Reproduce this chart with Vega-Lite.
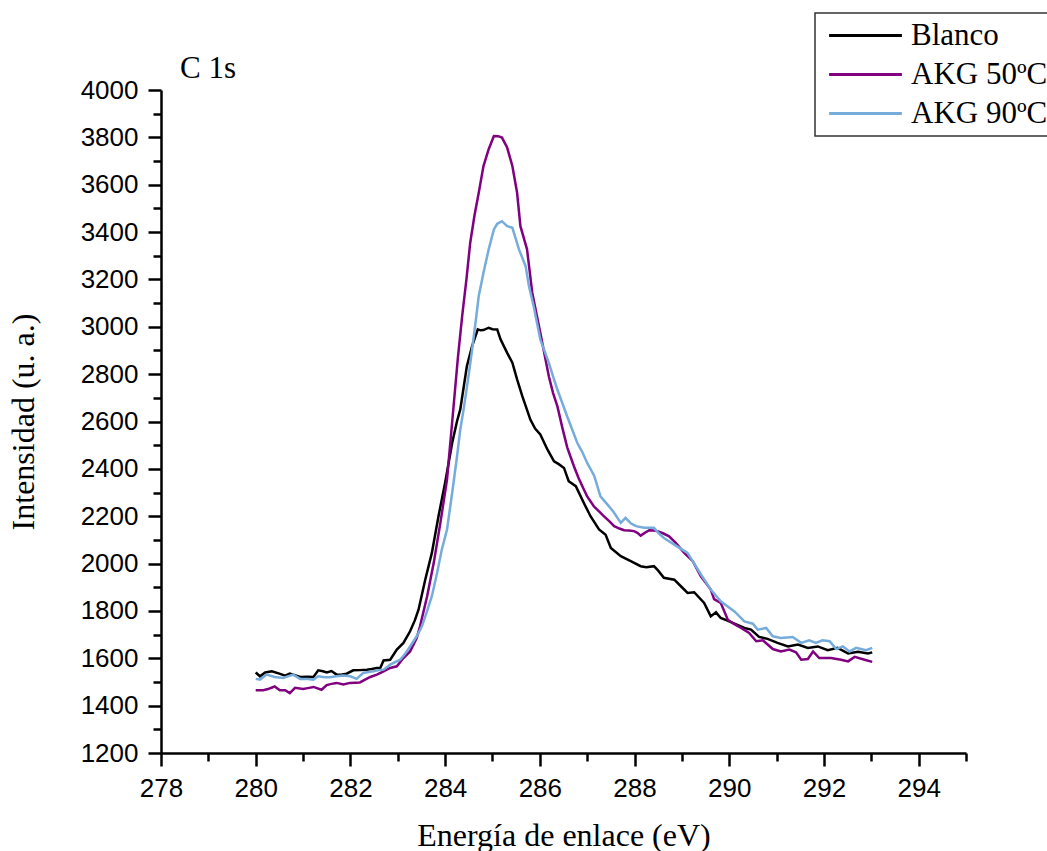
{
  "$schema": "https://vega.github.io/schema/vega-lite/v6.json",
  "width": 805,
  "height": 663,
  "autosize": {"type": "none"},
  "padding": {"left": 161, "top": 90, "right": 81, "bottom": 98},
  "background": "white",
  "config": {"view": {"stroke": null}, "legend": {"strokeWidth": 1.5}},
  "title": {"text": "C 1s", "anchor": "start", "frame": "group", "font": "Liberation Serif", "fontSize": 31, "fontWeight": "normal", "color": "black", "dx": 19, "offset": -97, "baseline": "alphabetic"},
  "data": {"values": [
{"s":"Blanco","e":280.0,"i":1540},{"s":"Blanco","e":280.09,"i":1524},{"s":"Blanco","e":280.2,"i":1540},{"s":"Blanco","e":280.34,"i":1545},{"s":"Blanco","e":280.5,"i":1535},{"s":"Blanco","e":280.62,"i":1527},{"s":"Blanco","e":280.72,"i":1535},{"s":"Blanco","e":280.84,"i":1528},{"s":"Blanco","e":280.94,"i":1521},{"s":"Blanco","e":281.1,"i":1522},{"s":"Blanco","e":281.22,"i":1521},{"s":"Blanco","e":281.32,"i":1549},{"s":"Blanco","e":281.42,"i":1545},{"s":"Blanco","e":281.5,"i":1540},{"s":"Blanco","e":281.6,"i":1546},{"s":"Blanco","e":281.71,"i":1531},{"s":"Blanco","e":281.82,"i":1532},{"s":"Blanco","e":281.92,"i":1535},{"s":"Blanco","e":282.06,"i":1549},{"s":"Blanco","e":282.2,"i":1550},{"s":"Blanco","e":282.35,"i":1552},{"s":"Blanco","e":282.45,"i":1555},{"s":"Blanco","e":282.56,"i":1559},{"s":"Blanco","e":282.63,"i":1559},{"s":"Blanco","e":282.7,"i":1591},{"s":"Blanco","e":282.84,"i":1594},{"s":"Blanco","e":282.98,"i":1637},{"s":"Blanco","e":283.12,"i":1665},{"s":"Blanco","e":283.26,"i":1714},{"s":"Blanco","e":283.36,"i":1760},{"s":"Blanco","e":283.44,"i":1806},{"s":"Blanco","e":283.58,"i":1932},{"s":"Blanco","e":283.72,"i":2045},{"s":"Blanco","e":283.86,"i":2200},{"s":"Blanco","e":284.0,"i":2341},{"s":"Blanco","e":284.15,"i":2510},{"s":"Blanco","e":284.25,"i":2600},{"s":"Blanco","e":284.32,"i":2651},{"s":"Blanco","e":284.46,"i":2834},{"s":"Blanco","e":284.57,"i":2918},{"s":"Blanco","e":284.69,"i":2989},{"s":"Blanco","e":284.75,"i":2985},{"s":"Blanco","e":284.81,"i":2986},{"s":"Blanco","e":284.92,"i":2996},{"s":"Blanco","e":285.0,"i":2990},{"s":"Blanco","e":285.1,"i":2989},{"s":"Blanco","e":285.17,"i":2947},{"s":"Blanco","e":285.31,"i":2890},{"s":"Blanco","e":285.42,"i":2848},{"s":"Blanco","e":285.52,"i":2778},{"s":"Blanco","e":285.63,"i":2707},{"s":"Blanco","e":285.8,"i":2608},{"s":"Blanco","e":285.9,"i":2570},{"s":"Blanco","e":286.01,"i":2545},{"s":"Blanco","e":286.16,"i":2482},{"s":"Blanco","e":286.3,"i":2432},{"s":"Blanco","e":286.4,"i":2420},{"s":"Blanco","e":286.51,"i":2404},{"s":"Blanco","e":286.61,"i":2348},{"s":"Blanco","e":286.76,"i":2327},{"s":"Blanco","e":286.93,"i":2256},{"s":"Blanco","e":287.07,"i":2200},{"s":"Blanco","e":287.25,"i":2144},{"s":"Blanco","e":287.39,"i":2122},{"s":"Blanco","e":287.5,"i":2066},{"s":"Blanco","e":287.71,"i":2031},{"s":"Blanco","e":287.92,"i":2010},{"s":"Blanco","e":288.13,"i":1989},{"s":"Blanco","e":288.25,"i":1985},{"s":"Blanco","e":288.41,"i":1989},{"s":"Blanco","e":288.5,"i":1970},{"s":"Blanco","e":288.62,"i":1940},{"s":"Blanco","e":288.84,"i":1932},{"s":"Blanco","e":289.0,"i":1900},{"s":"Blanco","e":289.12,"i":1876},{"s":"Blanco","e":289.26,"i":1879},{"s":"Blanco","e":289.47,"i":1834},{"s":"Blanco","e":289.61,"i":1777},{"s":"Blanco","e":289.72,"i":1794},{"s":"Blanco","e":289.82,"i":1770},{"s":"Blanco","e":289.95,"i":1760},{"s":"Blanco","e":290.11,"i":1746},{"s":"Blanco","e":290.32,"i":1728},{"s":"Blanco","e":290.46,"i":1721},{"s":"Blanco","e":290.63,"i":1690},{"s":"Blanco","e":290.81,"i":1682},{"s":"Blanco","e":291.02,"i":1665},{"s":"Blanco","e":291.24,"i":1650},{"s":"Blanco","e":291.45,"i":1658},{"s":"Blanco","e":291.66,"i":1644},{"s":"Blanco","e":291.87,"i":1650},{"s":"Blanco","e":292.08,"i":1634},{"s":"Blanco","e":292.29,"i":1644},{"s":"Blanco","e":292.51,"i":1620},{"s":"Blanco","e":292.72,"i":1628},{"s":"Blanco","e":292.93,"i":1620},{"s":"Blanco","e":293.02,"i":1625},
{"s":"AKG 50ºC","e":280.0,"i":1465},{"s":"AKG 50ºC","e":280.16,"i":1465},{"s":"AKG 50ºC","e":280.26,"i":1470},{"s":"AKG 50ºC","e":280.4,"i":1481},{"s":"AKG 50ºC","e":280.51,"i":1465},{"s":"AKG 50ºC","e":280.62,"i":1465},{"s":"AKG 50ºC","e":280.72,"i":1453},{"s":"AKG 50ºC","e":280.83,"i":1475},{"s":"AKG 50ºC","e":281.0,"i":1470},{"s":"AKG 50ºC","e":281.1,"i":1474},{"s":"AKG 50ºC","e":281.22,"i":1479},{"s":"AKG 50ºC","e":281.39,"i":1467},{"s":"AKG 50ºC","e":281.5,"i":1487},{"s":"AKG 50ºC","e":281.6,"i":1492},{"s":"AKG 50ºC","e":281.71,"i":1496},{"s":"AKG 50ºC","e":281.85,"i":1489},{"s":"AKG 50ºC","e":281.99,"i":1496},{"s":"AKG 50ºC","e":282.1,"i":1497},{"s":"AKG 50ºC","e":282.2,"i":1498},{"s":"AKG 50ºC","e":282.31,"i":1510},{"s":"AKG 50ºC","e":282.42,"i":1521},{"s":"AKG 50ºC","e":282.56,"i":1531},{"s":"AKG 50ºC","e":282.7,"i":1545},{"s":"AKG 50ºC","e":282.84,"i":1559},{"s":"AKG 50ºC","e":282.98,"i":1566},{"s":"AKG 50ºC","e":283.12,"i":1601},{"s":"AKG 50ºC","e":283.26,"i":1629},{"s":"AKG 50ºC","e":283.4,"i":1685},{"s":"AKG 50ºC","e":283.47,"i":1735},{"s":"AKG 50ºC","e":283.62,"i":1862},{"s":"AKG 50ºC","e":283.76,"i":2003},{"s":"AKG 50ºC","e":283.9,"i":2172},{"s":"AKG 50ºC","e":284.04,"i":2355},{"s":"AKG 50ºC","e":284.15,"i":2600},{"s":"AKG 50ºC","e":284.27,"i":2870},{"s":"AKG 50ºC","e":284.36,"i":3045},{"s":"AKG 50ºC","e":284.45,"i":3200},{"s":"AKG 50ºC","e":284.53,"i":3355},{"s":"AKG 50ºC","e":284.62,"i":3470},{"s":"AKG 50ºC","e":284.71,"i":3566},{"s":"AKG 50ºC","e":284.81,"i":3679},{"s":"AKG 50ºC","e":284.92,"i":3750},{"s":"AKG 50ºC","e":285.03,"i":3806},{"s":"AKG 50ºC","e":285.12,"i":3805},{"s":"AKG 50ºC","e":285.2,"i":3799},{"s":"AKG 50ºC","e":285.31,"i":3757},{"s":"AKG 50ºC","e":285.42,"i":3679},{"s":"AKG 50ºC","e":285.52,"i":3566},{"s":"AKG 50ºC","e":285.59,"i":3425},{"s":"AKG 50ºC","e":285.73,"i":3327},{"s":"AKG 50ºC","e":285.84,"i":3144},{"s":"AKG 50ºC","e":286.01,"i":2975},{"s":"AKG 50ºC","e":286.19,"i":2791},{"s":"AKG 50ºC","e":286.28,"i":2720},{"s":"AKG 50ºC","e":286.37,"i":2665},{"s":"AKG 50ºC","e":286.48,"i":2570},{"s":"AKG 50ºC","e":286.58,"i":2490},{"s":"AKG 50ºC","e":286.72,"i":2411},{"s":"AKG 50ºC","e":286.82,"i":2360},{"s":"AKG 50ºC","e":286.93,"i":2313},{"s":"AKG 50ºC","e":287.0,"i":2284},{"s":"AKG 50ºC","e":287.14,"i":2242},{"s":"AKG 50ºC","e":287.25,"i":2220},{"s":"AKG 50ºC","e":287.35,"i":2200},{"s":"AKG 50ºC","e":287.46,"i":2180},{"s":"AKG 50ºC","e":287.57,"i":2158},{"s":"AKG 50ºC","e":287.68,"i":2148},{"s":"AKG 50ºC","e":287.78,"i":2141},{"s":"AKG 50ºC","e":287.88,"i":2140},{"s":"AKG 50ºC","e":287.99,"i":2137},{"s":"AKG 50ºC","e":288.06,"i":2130},{"s":"AKG 50ºC","e":288.13,"i":2118},{"s":"AKG 50ºC","e":288.22,"i":2130},{"s":"AKG 50ºC","e":288.31,"i":2141},{"s":"AKG 50ºC","e":288.4,"i":2140},{"s":"AKG 50ºC","e":288.48,"i":2137},{"s":"AKG 50ºC","e":288.6,"i":2128},{"s":"AKG 50ºC","e":288.73,"i":2115},{"s":"AKG 50ºC","e":288.87,"i":2087},{"s":"AKG 50ºC","e":289.05,"i":2045},{"s":"AKG 50ºC","e":289.23,"i":2010},{"s":"AKG 50ºC","e":289.4,"i":1946},{"s":"AKG 50ºC","e":289.5,"i":1920},{"s":"AKG 50ºC","e":289.61,"i":1890},{"s":"AKG 50ºC","e":289.68,"i":1850},{"s":"AKG 50ºC","e":289.82,"i":1834},{"s":"AKG 50ºC","e":289.97,"i":1763},{"s":"AKG 50ºC","e":290.1,"i":1745},{"s":"AKG 50ºC","e":290.25,"i":1728},{"s":"AKG 50ºC","e":290.42,"i":1707},{"s":"AKG 50ºC","e":290.57,"i":1672},{"s":"AKG 50ºC","e":290.71,"i":1676},{"s":"AKG 50ºC","e":290.92,"i":1639},{"s":"AKG 50ºC","e":291.09,"i":1629},{"s":"AKG 50ºC","e":291.27,"i":1637},{"s":"AKG 50ºC","e":291.41,"i":1625},{"s":"AKG 50ºC","e":291.52,"i":1594},{"s":"AKG 50ºC","e":291.66,"i":1597},{"s":"AKG 50ºC","e":291.77,"i":1629},{"s":"AKG 50ºC","e":291.9,"i":1601},{"s":"AKG 50ºC","e":292.15,"i":1601},{"s":"AKG 50ºC","e":292.36,"i":1594},{"s":"AKG 50ºC","e":292.51,"i":1587},{"s":"AKG 50ºC","e":292.65,"i":1606},{"s":"AKG 50ºC","e":292.86,"i":1594},{"s":"AKG 50ºC","e":293.02,"i":1585},
{"s":"AKG 90ºC","e":280.0,"i":1513},{"s":"AKG 90ºC","e":280.09,"i":1510},{"s":"AKG 90ºC","e":280.23,"i":1531},{"s":"AKG 90ºC","e":280.4,"i":1521},{"s":"AKG 90ºC","e":280.58,"i":1517},{"s":"AKG 90ºC","e":280.79,"i":1531},{"s":"AKG 90ºC","e":280.94,"i":1513},{"s":"AKG 90ºC","e":281.1,"i":1512},{"s":"AKG 90ºC","e":281.22,"i":1510},{"s":"AKG 90ºC","e":281.32,"i":1524},{"s":"AKG 90ºC","e":281.45,"i":1520},{"s":"AKG 90ºC","e":281.57,"i":1520},{"s":"AKG 90ºC","e":281.7,"i":1524},{"s":"AKG 90ºC","e":281.85,"i":1527},{"s":"AKG 90ºC","e":282.0,"i":1524},{"s":"AKG 90ºC","e":282.13,"i":1513},{"s":"AKG 90ºC","e":282.27,"i":1538},{"s":"AKG 90ºC","e":282.38,"i":1542},{"s":"AKG 90ºC","e":282.49,"i":1545},{"s":"AKG 90ºC","e":282.6,"i":1550},{"s":"AKG 90ºC","e":282.7,"i":1552},{"s":"AKG 90ºC","e":282.84,"i":1573},{"s":"AKG 90ºC","e":283.05,"i":1594},{"s":"AKG 90ºC","e":283.16,"i":1620},{"s":"AKG 90ºC","e":283.26,"i":1650},{"s":"AKG 90ºC","e":283.4,"i":1693},{"s":"AKG 90ºC","e":283.51,"i":1735},{"s":"AKG 90ºC","e":283.62,"i":1800},{"s":"AKG 90ºC","e":283.72,"i":1862},{"s":"AKG 90ºC","e":283.83,"i":1960},{"s":"AKG 90ºC","e":283.93,"i":2059},{"s":"AKG 90ºC","e":284.04,"i":2144},{"s":"AKG 90ºC","e":284.15,"i":2300},{"s":"AKG 90ºC","e":284.25,"i":2450},{"s":"AKG 90ºC","e":284.32,"i":2566},{"s":"AKG 90ºC","e":284.39,"i":2650},{"s":"AKG 90ºC","e":284.5,"i":2800},{"s":"AKG 90ºC","e":284.57,"i":2904},{"s":"AKG 90ºC","e":284.65,"i":3030},{"s":"AKG 90ºC","e":284.71,"i":3130},{"s":"AKG 90ºC","e":284.81,"i":3228},{"s":"AKG 90ºC","e":284.92,"i":3327},{"s":"AKG 90ºC","e":285.03,"i":3411},{"s":"AKG 90ºC","e":285.1,"i":3435},{"s":"AKG 90ºC","e":285.2,"i":3446},{"s":"AKG 90ºC","e":285.31,"i":3425},{"s":"AKG 90ºC","e":285.42,"i":3418},{"s":"AKG 90ºC","e":285.56,"i":3327},{"s":"AKG 90ºC","e":285.7,"i":3256},{"s":"AKG 90ºC","e":285.77,"i":3172},{"s":"AKG 90ºC","e":285.87,"i":3087},{"s":"AKG 90ºC","e":286.01,"i":2947},{"s":"AKG 90ºC","e":286.19,"i":2848},{"s":"AKG 90ºC","e":286.3,"i":2778},{"s":"AKG 90ºC","e":286.37,"i":2735},{"s":"AKG 90ºC","e":286.58,"i":2620},{"s":"AKG 90ºC","e":286.79,"i":2510},{"s":"AKG 90ºC","e":286.9,"i":2470},{"s":"AKG 90ºC","e":287.0,"i":2425},{"s":"AKG 90ºC","e":287.15,"i":2370},{"s":"AKG 90ºC","e":287.28,"i":2284},{"s":"AKG 90ºC","e":287.43,"i":2249},{"s":"AKG 90ºC","e":287.55,"i":2220},{"s":"AKG 90ºC","e":287.71,"i":2172},{"s":"AKG 90ºC","e":287.81,"i":2193},{"s":"AKG 90ºC","e":287.92,"i":2170},{"s":"AKG 90ºC","e":288.03,"i":2158},{"s":"AKG 90ºC","e":288.2,"i":2151},{"s":"AKG 90ºC","e":288.41,"i":2151},{"s":"AKG 90ºC","e":288.5,"i":2130},{"s":"AKG 90ºC","e":288.62,"i":2108},{"s":"AKG 90ºC","e":288.84,"i":2080},{"s":"AKG 90ºC","e":289.0,"i":2060},{"s":"AKG 90ºC","e":289.12,"i":2045},{"s":"AKG 90ºC","e":289.26,"i":2000},{"s":"AKG 90ºC","e":289.4,"i":1955},{"s":"AKG 90ºC","e":289.61,"i":1890},{"s":"AKG 90ºC","e":289.82,"i":1841},{"s":"AKG 90ºC","e":290.11,"i":1798},{"s":"AKG 90ºC","e":290.32,"i":1756},{"s":"AKG 90ºC","e":290.5,"i":1746},{"s":"AKG 90ºC","e":290.6,"i":1721},{"s":"AKG 90ºC","e":290.78,"i":1728},{"s":"AKG 90ºC","e":290.92,"i":1693},{"s":"AKG 90ºC","e":291.09,"i":1686},{"s":"AKG 90ºC","e":291.34,"i":1690},{"s":"AKG 90ºC","e":291.52,"i":1665},{"s":"AKG 90ºC","e":291.69,"i":1676},{"s":"AKG 90ºC","e":291.83,"i":1665},{"s":"AKG 90ºC","e":291.97,"i":1676},{"s":"AKG 90ºC","e":292.12,"i":1672},{"s":"AKG 90ºC","e":292.26,"i":1639},{"s":"AKG 90ºC","e":292.4,"i":1650},{"s":"AKG 90ºC","e":292.54,"i":1629},{"s":"AKG 90ºC","e":292.68,"i":1644},{"s":"AKG 90ºC","e":292.89,"i":1634},{"s":"AKG 90ºC","e":293.02,"i":1644}
  ]},
  "mark": {"type": "line", "strokeWidth": 2.5},
  "encoding": {
    "x": {
      "field": "e", "type": "quantitative",
      "scale": {"domain": [278, 295], "nice": false, "zero": false},
      "axis": {
        "title": "Energía de enlace (eV)",
        "values": [278,279,280,281,282,283,284,285,286,287,288,289,290,291,292,293,294,295],
        "labelExpr": "datum.value % 2 === 0 ? datum.label : ''",
        "labelFlush": false,
        "tickSize": {"condition": {"test": "datum.value % 2 === 0", "value": 13}, "value": 8},
        "grid": false,
        "domainColor": "black", "domainWidth": 2.5,
        "tickColor": "black", "tickWidth": 2.5,
        "labelFont": "Liberation Sans", "labelFontSize": 26, "labelColor": "black", "labelPadding": 9,
        "titleFont": "Liberation Serif", "titleFontSize": 32, "titleFontWeight": "normal", "titleColor": "black", "titlePadding": 19
      }
    },
    "y": {
      "field": "i", "type": "quantitative",
      "scale": {"domain": [1200, 4000], "nice": false, "zero": false},
      "axis": {
        "title": "Intensidad (u. a.)",
        "values": [1200,1300,1400,1500,1600,1700,1800,1900,2000,2100,2200,2300,2400,2500,2600,2700,2800,2900,3000,3100,3200,3300,3400,3500,3600,3700,3800,3900,4000],
        "labelExpr": "datum.value % 200 === 0 ? datum.value : ''",
        "labelFlush": false,
        "tickSize": {"condition": {"test": "datum.value % 200 === 0", "value": 13}, "value": 8},
        "grid": false,
        "domainColor": "black", "domainWidth": 2.5,
        "tickColor": "black", "tickWidth": 2.5,
        "labelFont": "Liberation Sans", "labelFontSize": 26, "labelColor": "black", "labelPadding": 10,
        "titleFont": "Liberation Serif", "titleFontSize": 32, "titleFontWeight": "normal", "titleColor": "black", "titlePadding": 40
      }
    },
    "color": {
      "field": "s", "type": "nominal",
      "scale": {"domain": ["Blanco", "AKG 50ºC", "AKG 90ºC"], "range": ["#000000", "#800080", "#76acdc"]},
      "legend": {
        "title": null,
        "orient": "none", "legendX": 654, "legendY": -77,
        "strokeColor": "#333333", "fillColor": "white",
        "padding": 7,
        "symbolType": "M-2.6,0H2.6", "symbolSize": 784, "symbolStrokeWidth": 3, "symbolOffset": 28,
        "labelFont": "Liberation Serif", "labelFontSize": 31, "labelColor": "black", "labelOffset": 30,
        "rowPadding": 7
      }
    }
  }
}
